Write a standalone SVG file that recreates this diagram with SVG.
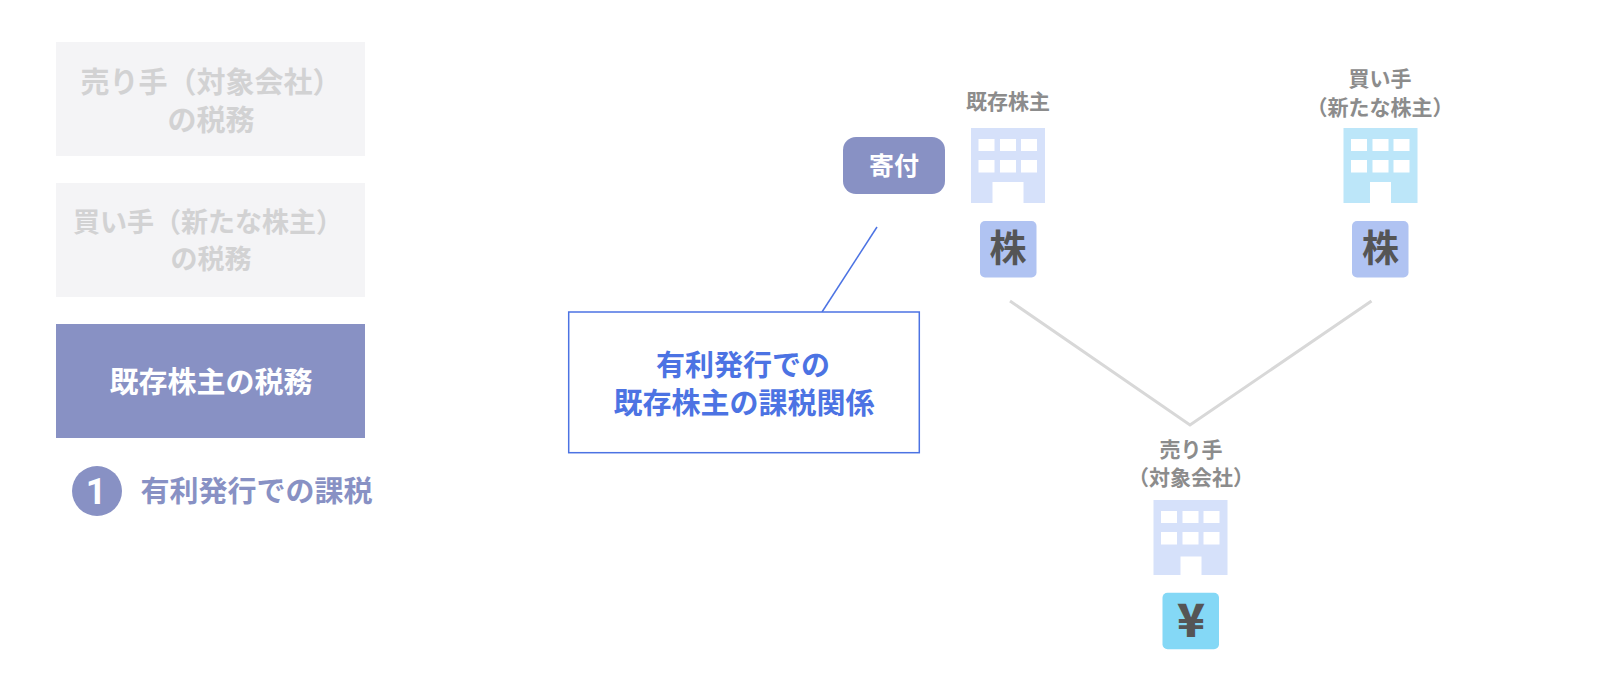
<svg xmlns="http://www.w3.org/2000/svg" width="1600" height="692" viewBox="0 0 1600 692">
<style>
text{font-family:"Noto Sans CJK JP","Noto Sans CJK SC",sans-serif;font-weight:700;text-anchor:middle}
.ghost{fill:#f4f4f6}
.gt{font-size:29px;fill:#d2d2d3}
.gt2{font-size:27px;fill:#d2d2d3}
.lab{font-size:21px;fill:#8c8c8c}
.kabu{fill:#b0c3f2}
.kt{font-size:37px;fill:#555}
.win{fill:#fff}
.b1{fill:#d6e1fa}
.b2{fill:#bce6f9}
</style>
<defs>
<g id="wins"><rect class="win" x="7.500" y="11" width="16" height="12"/><rect class="win" x="29" y="11" width="16" height="12"/><rect class="win" x="50" y="11" width="16" height="12"/><rect class="win" x="7.500" y="32" width="16" height="12.500"/><rect class="win" x="29" y="32" width="16" height="12.500"/><rect class="win" x="50" y="32" width="16" height="12.500"/></g>
</defs>
<g id="connectors">
<polyline points="1010,301 1190,425 1371.5,301" fill="none" stroke="#d8d8d8" stroke-width="3"/>
<line x1="877" y1="227" x2="822" y2="312" stroke="#4c73e3" stroke-width="1.500"/>
</g>
<g id="tab-seller"><rect class="ghost" x="56" y="42" width="309" height="114"/><text class="gt" x="211" y="92.500">売り手（対象会社）</text><text class="gt" x="211" y="130.500">の税務</text></g>
<g id="tab-buyer"><rect class="ghost" x="56" y="183" width="309" height="114"/><text class="gt2" x="208" y="232">買い手（新たな株主）</text><text class="gt2" x="211" y="269">の税務</text></g>
<g id="tab-holder"><rect x="56" y="324" width="309" height="114" fill="#8891c4"/><text x="211" y="393" font-size="29" fill="#fff">既存株主の税務</text></g>
<g id="item-1"><circle cx="97" cy="491" r="25" fill="#8891c4"/><text x="96" y="504" font-size="36" fill="#fff" style="font-family:Roboto,sans-serif">1</text><text x="256.500" y="502" font-size="29" fill="#8891c4">有利発行での課税</text></g>
<g id="donation"><rect x="843" y="137" width="102" height="57" rx="13" fill="#8891c4"/><text x="894" y="175" font-size="25" fill="#fff">寄付</text></g>
<g id="callout"><rect x="568.700" y="312" width="350.600" height="140.700" fill="#fff" stroke="#4c73e3" stroke-width="1.500"/><text x="743" y="376" font-size="29" fill="#4c73e3">有利発行での</text><text x="744" y="414" font-size="29" fill="#4c73e3">既存株主の課税関係</text></g>
<g id="holder"><text class="lab" x="1008" y="108.500">既存株主</text><rect class="b1" x="971" y="128" width="74" height="75"/><use href="#wins" x="971" y="128"/><rect class="win" x="992.500" y="182" width="31" height="21"/><rect class="kabu" x="980" y="221" width="56.500" height="56.500" rx="5"/><text class="kt" x="1008" y="262">株</text></g>
<g id="buyer"><text class="lab" x="1380" y="85.500">買い手</text><text class="lab" x="1380" y="114.500">（新たな株主）</text><rect class="b2" x="1343.500" y="128" width="74" height="75"/><use href="#wins" x="1343.500" y="128"/><rect class="win" x="1370" y="182" width="21" height="21"/><rect class="kabu" x="1352" y="221" width="56.500" height="56.500" rx="5"/><text class="kt" x="1380.500" y="262">株</text></g>
<g id="seller"><text class="lab" x="1191" y="456.500">売り手</text><text class="lab" x="1191" y="485">（対象会社）</text><rect class="b1" x="1153.500" y="500" width="74" height="75"/><use href="#wins" x="1153.500" y="500"/><rect class="win" x="1180.500" y="556.500" width="21" height="18.500"/><rect x="1162.500" y="592.700" width="56.500" height="56.500" rx="5" fill="#84d8f6"/><text x="1191" y="637" font-size="46" fill="#555" style="font-family:'Noto Sans CJK JP',sans-serif;font-weight:900">¥</text></g>
</svg>
